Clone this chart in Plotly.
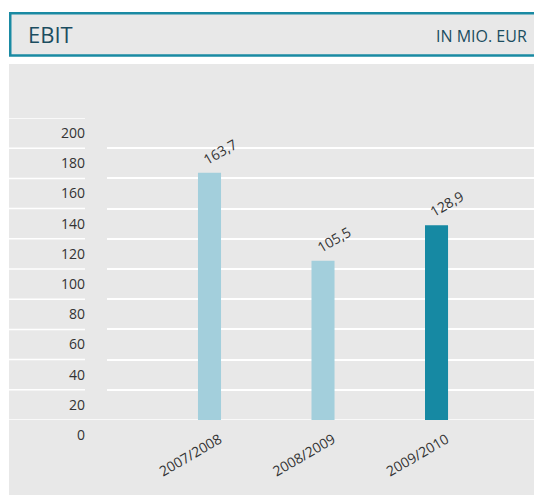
import plotly.graph_objects as go

categories = ["2007/2008", "2008/2009", "2009/2010"]
ebit_values = [163.7, 105.5, 128.9]
bar_colors = ["#a3cfdc", "#a3cfdc", "#1689a3"]
y_ticks = [0, 20, 40, 60, 80, 100, 120, 140, 160, 180, 200]
title_text = "EBIT"
unit_text = "IN MIO. EUR"

OFF = 8  # page body margin
W, H = 542 - OFF, 496 - OFF
L, R, T, B = 107 - OFF, 538 - OFF, 118 - OFF, 420 - OFF
pw, ph = R - L, B - T


def px(x):
    return (x - OFF - L) / pw


def py(y):
    return (B - (y - OFF)) / ph


FONT = "Open Sans"
TXT = "#333333"
TEAL_DARK = "#1b4d60"

fig = go.Figure()
fig.add_trace(go.Bar(
    x=categories, y=ebit_values, marker_color=bar_colors,
    marker_line_width=0, width=0.203, hoverinfo="skip",
))

shapes = [
    dict(type="rect", xref="paper", yref="paper", x0=px(9), x1=px(560), y0=py(495), y1=py(64),
         fillcolor="#e8e8e8", line_width=0, layer="below"),
    dict(type="rect", xref="paper", yref="paper", x0=px(10.25), x1=px(570), y0=py(55.5), y1=py(13.25),
         fillcolor="#e8e8e8", line=dict(color="#1a8aa3", width=2.5), layer="below"),
]
for v in y_ticks:
    if v == 0:
        shapes.append(dict(type="line", xref="paper", yref="y", x0=px(9), x1=1, y0=v, y1=v,
                           line=dict(color="white", width=1.5), layer="below"))
    else:
        shapes.append(dict(type="line", xref="paper", yref="y", x0=px(9), x1=px(85), y0=v, y1=v,
                           line=dict(color="white", width=1.5), layer="below"))

annotations = [
    dict(text=title_text, xref="paper", yref="paper", x=px(26), y=py(34), xanchor="left", yanchor="middle",
         showarrow=False, font=dict(family=FONT, size=22, color=TEAL_DARK)),
    dict(text=unit_text, xref="paper", yref="paper", x=px(529), y=py(36.5), xanchor="right", yanchor="middle",
         showarrow=False, font=dict(family=FONT, size=16, color=TEAL_DARK)),
]
for c, v in zip(categories, ebit_values):
    annotations.append(dict(
        text=f"{v:.1f}".replace(".", ","), x=c, y=v, xref="x", yref="y",
        showarrow=False, textangle=-30, xanchor="center", yanchor="middle",
        xshift=10.5, yshift=21.5, font=dict(family=FONT, size=14, color=TXT),
    ))

fig.update_layout(
    width=W, height=H,
    margin=dict(l=L, r=W - R, t=T, b=H - B, pad=0),
    paper_bgcolor="white", plot_bgcolor="rgba(0,0,0,0)",
    showlegend=False,
    shapes=shapes, annotations=annotations,
    font=dict(family=FONT, size=14, color=TXT),
    xaxis=dict(
        type="category", range=[-0.903, 2.894], showgrid=False, zeroline=False,
        showline=False, ticks="", tickangle=-30, ticklabelstandoff=8, ticklabelshift=10,
        tickfont=dict(family=FONT, size=14, color=TXT), fixedrange=True,
    ),
    yaxis=dict(
        range=[0, 200], tickvals=y_ticks, ticktext=[str(v) for v in y_ticks],
        showgrid=True, gridcolor="white", gridwidth=1.5, zeroline=False, showline=False,
        ticks="", ticklabelstandoff=21, ticklabelshift=15,
        tickfont=dict(family=FONT, size=14, color=TXT), fixedrange=True,
    ),
)

fig.write_html("out.html")
